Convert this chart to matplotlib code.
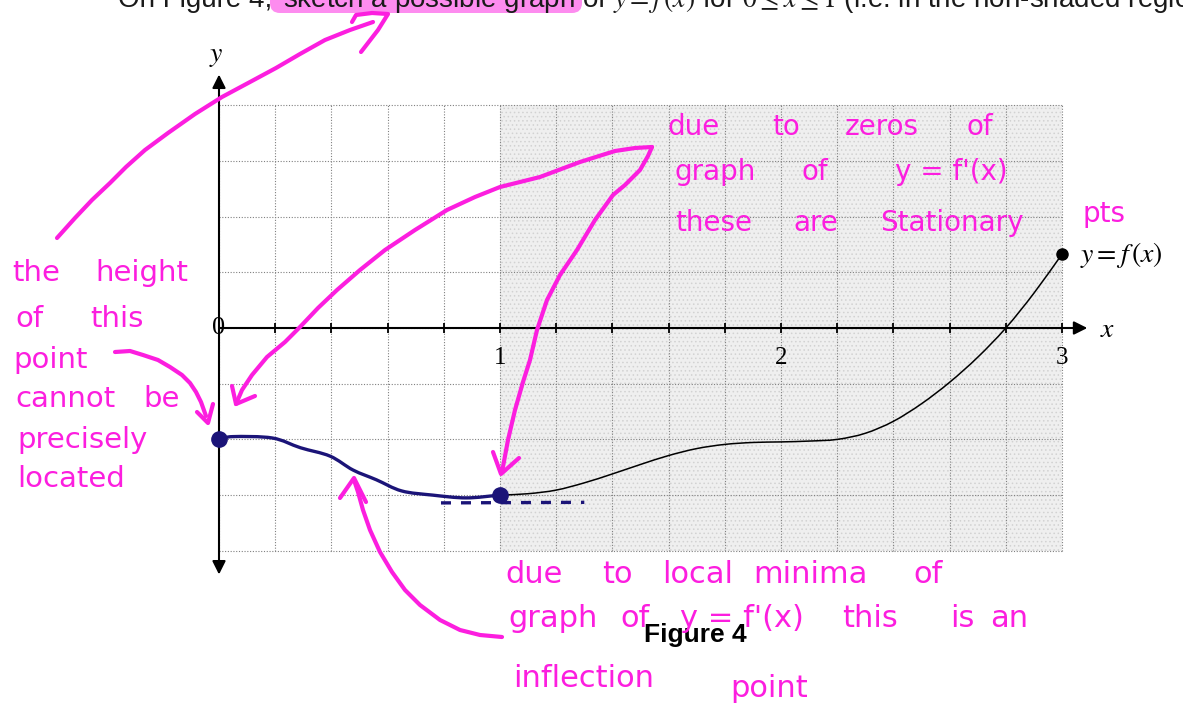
import numpy as np
import matplotlib
matplotlib.use("Agg")
import matplotlib.pyplot as plt
from matplotlib.patches import Rectangle, FancyBboxPatch, PathPatch
from matplotlib.path import Path

plt.rcParams["mathtext.fontset"] = "stix"

# ---- data -------------------------------------------------------------
# printed graph of y = f(x) on the shaded part, 1 <= x <= 3
curve_x = [1.0, 1.1, 1.2, 1.3, 1.4, 1.5, 1.6, 1.7, 1.8, 1.9, 2.0,
           2.1, 2.2, 2.3, 2.4, 2.5, 2.6, 2.7, 2.8, 2.9, 3.0]
curve_y = [-0.600, -0.595, -0.582, -0.556, -0.524, -0.490, -0.458, -0.433,
           -0.418, -0.411, -0.409, -0.406, -0.400, -0.378, -0.335, -0.272,
           -0.195, -0.105, 0.000, 0.125, 0.265]

# hand-sketched part, 0 <= x <= 1
sketch_x = [0.0, 0.05, 0.19, 0.29, 0.395, 0.477, 0.56, 0.65, 0.76, 0.88, 1.0]
sketch_y = [-0.40, -0.39, -0.395, -0.43, -0.46, -0.51, -0.545, -0.585,
            -0.600, -0.610, -0.600]

# horizontal tangent drawn at the inflection point
tangent_x = [0.79, 1.30]
tangent_y = [-0.628, -0.626]

end_point = (3.0, 0.265)
sketch_points_x = [0.0, 1.0]
sketch_points_y = [-0.40, -0.60]

x_tick_labels = ["1", "2", "3"]
x_tick_label_pos = [1, 2, 3]
minor_ticks = np.round(np.arange(0.2, 3.01, 0.2), 2)
grid_x = np.round(np.arange(0.0, 3.01, 0.2), 2)
grid_y = np.round(np.arange(-0.8, 0.81, 0.2), 2)


def smooth_path(xs, ys):
    """Catmull-Rom curve through the given points, as cubic Bezier pieces."""
    p = np.column_stack([xs, ys]).astype(float)
    ext = np.vstack([2 * p[0] - p[1], p, 2 * p[-1] - p[-2]])
    verts = [tuple(p[0])]
    codes = [Path.MOVETO]
    for i in range(1, len(ext) - 2):
        p0, p1, p2, p3 = ext[i - 1], ext[i], ext[i + 1], ext[i + 2]
        c1 = p1 + (p2 - p0) / 6.0
        c2 = p2 - (p3 - p1) / 6.0
        verts += [tuple(c1), tuple(c2), tuple(p2)]
        codes += [Path.CURVE4] * 3
    return Path(verts, codes)


# ---- figure ----------------------------------------------------------
W, H = 1183, 710
fig = plt.figure(figsize=(W / 100, H / 100), dpi=100)
fig.patch.set_facecolor("white")

x0_px, ux = 219.0, 281.0
y0_px, uy = 328.0, 278.5
xlim = (-0.2, 3.3)
ylim = (-1.0, 1.0)
left_px = x0_px + xlim[0] * ux
right_px = x0_px + xlim[1] * ux
top_px = y0_px - ylim[1] * uy
bot_px = y0_px - ylim[0] * uy
ax = fig.add_axes([left_px / W, (H - bot_px) / H,
                   (right_px - left_px) / W, (bot_px - top_px) / H])
ax.set_xlim(*xlim)
ax.set_ylim(*ylim)
ax.axis("off")

plt.rcParams["hatch.linewidth"] = 0.6
ax.add_patch(Rectangle((1.0, -0.8), 2.0, 1.6, facecolor="#efefef",
                       edgecolor="#d2d2d2", hatch="....", lw=0, zorder=0))

ax.vlines(grid_x, -0.8, 0.8, colors="#808080", linestyles=(0, (1, 1.5)),
          lw=0.8, zorder=1)
ax.hlines(grid_y, 0.0, 3.0, colors="#808080", linestyles=(0, (1, 1.5)),
          lw=0.8, zorder=1)

# axes with arrowheads
ax.annotate("", xy=(3.09, 0), xytext=(0.0, 0),
            arrowprops=dict(arrowstyle="-|>", lw=1.5, color="black",
                            mutation_scale=20, shrinkA=0, shrinkB=0), zorder=3)
ax.annotate("", xy=(0, 0.91), xytext=(0, -0.885),
            arrowprops=dict(arrowstyle="<|-|>", lw=1.5, color="black",
                            mutation_scale=20, shrinkA=0, shrinkB=0), zorder=3)
ax.plot(minor_ticks, np.zeros_like(minor_ticks), ls="none", marker="|",
        ms=7, mew=1.3, color="black", zorder=3)

serif = "Liberation Serif"
for lab, xp in zip(x_tick_labels, x_tick_label_pos):
    ax.text(xp, -0.108, lab, ha="center", va="center", fontsize=18,
            family=serif, zorder=4)
ax.text(0, 0.0, "0", ha="center", va="center", fontsize=19, family=serif,
        zorder=4)
ax.text(3.135, -0.005, "$x$", ha="left", va="center", fontsize=20, zorder=4)
ax.text(-0.01, 0.98, "$y$", ha="center", va="center", fontsize=20, zorder=4)
ax.text(3.064, 0.262, r"$y = f\,(x)$", ha="left", va="center", fontsize=20,
        zorder=4)

ax.add_patch(PathPatch(smooth_path(curve_x, curve_y), facecolor="none",
                       edgecolor="black", lw=1.1, zorder=4))
ax.plot(*end_point, "o", color="black", ms=8, zorder=5)

navy = "#1b1478"
ax.add_patch(PathPatch(smooth_path(sketch_x, sketch_y), facecolor="none",
                       edgecolor=navy, lw=2.4, capstyle="round",
                       joinstyle="round", zorder=5))
ax.plot(tangent_x, tangent_y, color=navy, lw=2.4, ls=(0, (3, 3)), zorder=5)
ax.plot(sketch_points_x, sketch_points_y, "o", color=navy, ms=11, zorder=6)

# ---- overlay in pixel coordinates: question text and pen notes --------
ov = fig.add_axes([0, 0, 1, 1], zorder=10)
ov.set_xlim(0, W)
ov.set_ylim(H, 0)
ov.axis("off")
ov.patch.set_alpha(0)

ov.add_patch(FancyBboxPatch((270, -14), 312, 27,
                            boxstyle="round,pad=0,rounding_size=10",
                            facecolor="#fd8cef", edgecolor="none", zorder=1))
ov.text(280, 7, "On Figure 4, ", ha="right", va="baseline", fontsize=20,
        family="Liberation Sans", color="#1a1a1a", zorder=2)
ov.text(283, 7, r"sketch a possible graph of $y = f\,(x)$ for "
        r"$0 \leq x \leq 1$ (i.e. in the non-shaded region)",
        ha="left", va="baseline", fontsize=20, family="Liberation Sans",
        color="#1a1a1a", zorder=2)

ov.text(695, 642, "Figure 4", ha="center", va="baseline", fontsize=19,
        family="Liberation Sans", weight="bold", color="black", zorder=2)

pink = "#fc1edf"
pen = dict(color=pink, lw=3.0, solid_capstyle="round",
           solid_joinstyle="round", zorder=3)


def stroke(pts):
    xs, ys = zip(*pts)
    ov.plot(xs, ys, **pen)


# arrow up to the highlighted question
stroke([(57, 238), (75, 218), (92, 200), (110, 183), (126, 167), (145, 150),
        (168, 133), (195, 114), (222, 97), (250, 82), (276, 68), (300, 54),
        (325, 40), (350, 30), (373, 22)])
stroke([(352, 22), (356, 15), (372, 13), (388, 14), (378, 30), (361, 52)])

# arrows from the "zeros" note to both stationary points
stroke([(652, 147), (635, 148), (615, 151), (580, 162), (540, 177),
        (500, 187), (475, 197), (447, 210), (415, 230), (385, 250),
        (360, 270), (337, 290), (318, 308), (300, 327), (285, 342),
        (267, 357), (252, 375), (242, 390), (236, 404)])
stroke([(232, 386), (236, 404), (255, 396)])
stroke([(652, 147), (648, 156), (640, 170), (625, 185), (613, 195),
        (595, 220), (577, 250), (560, 275), (547, 300), (537, 330),
        (530, 360), (523, 382), (515, 410), (508, 440), (502, 472)])
stroke([(493, 452), (501, 474), (519, 458)])

# arrow from "point" to the left end point
stroke([(115, 352), (130, 351), (143, 355), (158, 360), (170, 367),
        (182, 375), (190, 383), (196, 392), (201, 402), (206, 416)])
stroke([(197, 412), (208, 423), (213, 404)])

# arrow from the inflection note up to the sketched curve
stroke([(502, 637), (480, 635), (460, 630), (440, 620), (420, 605),
        (405, 590), (392, 572), (380, 552), (370, 530), (363, 510),
        (358, 492), (354, 480)])
stroke([(340, 498), (354, 478), (366, 502)])

hand = dict(color=pink, family="DejaVu Sans", va="baseline", zorder=3)


def words(items, size):
    for w, xp, yp in items:
        ov.text(xp, yp, w, fontsize=size, **hand)


words([("due", 668, 135), ("to", 772, 135), ("zeros", 845, 135),
       ("of", 967, 135),
       ("graph", 675, 180), ("of", 802, 180), ("y = f'(x)", 895, 180),
       ("these", 675, 231), ("are", 793, 231), ("Stationary", 880, 231),
       ("pts", 1083, 222)], 20)

words([("the", 12, 281), ("height", 95, 281),
       ("of", 15, 327), ("this", 90, 327),
       ("point", 13, 368),
       ("cannot", 15, 407), ("be", 143, 407),
       ("precisely", 17, 448),
       ("located", 17, 487)], 21)

words([("due", 505, 583), ("to", 602, 583), ("local", 662, 583),
       ("minima", 753, 583), ("of", 913, 583),
       ("graph", 508, 627), ("of", 620, 627), ("y = f'(x)", 680, 627),
       ("this", 842, 627), ("is", 950, 627), ("an", 990, 627),
       ("inflection", 513, 687), ("point", 730, 697)], 22)

fig.savefig("out.png", dpi=100, facecolor="white")
